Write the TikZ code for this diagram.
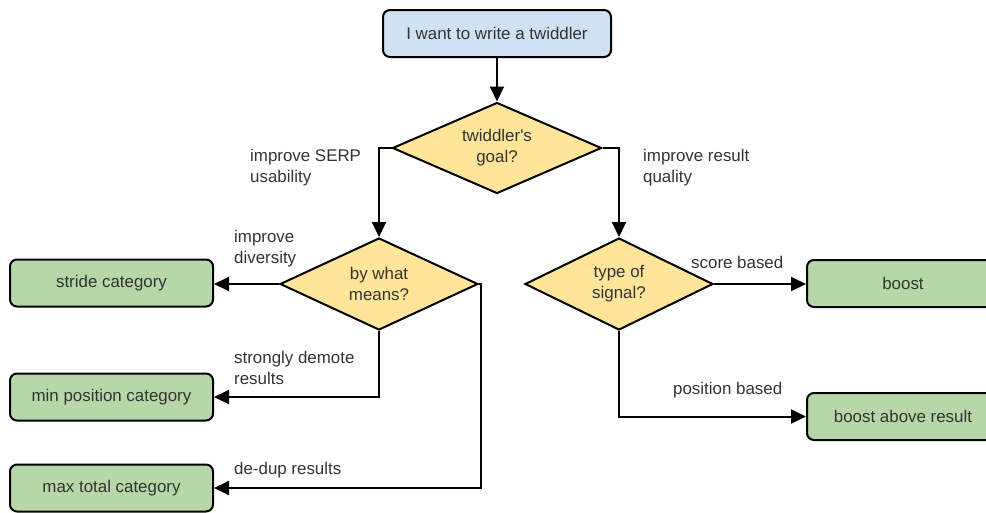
\documentclass[tikz,border=0pt]{standalone}
\usepackage{fontspec}
\setmainfont{Liberation Sans}
\usepackage{xcolor}
\usetikzlibrary{shapes.geometric,arrows.meta}
\definecolor{startblue}{HTML}{CFE2F3}
\definecolor{leafgreen}{HTML}{B6D7A8}
\definecolor{askyellow}{HTML}{FFE599}
\definecolor{inkgray}{HTML}{333333}

\begin{document}
\begin{tikzpicture}[x=1pt,y=-1pt,
		font=\fontsize{16.9}{21}\selectfont,
		box/.style={draw, line width=2pt, rounded corners=7pt, minimum height=47pt, inner sep=0pt, text=inkgray},
		leaf/.style={box, fill=leafgreen},
		ask/.style={draw, diamond, aspect=2.2, line width=2pt, fill=askyellow, inner sep=0pt, align=center, text=inkgray},
		edgetxt/.style={anchor=west, inner sep=0pt, align=left, text=inkgray},
		flow/.style={line width=2pt, -{Triangle[length=15pt,width=14pt]}}]
			\useasboundingbox (0,0) rectangle (986,512);
			% boxes and questions
			\node[box, fill=startblue, minimum width=228pt] (start) at (497,33.5) {I want to write a twiddler};
			\node[ask, minimum width=209pt, minimum height=91pt] (goal) at (497,148) {twiddler\textquotesingle s\\goal?};
			\node[ask, minimum width=198pt, minimum height=92pt] (means) at (379,284) {by what\\means?};
			\node[ask, minimum width=188pt, minimum height=92pt] (signal) at (619,284) {type of\\signal?};
			\node[leaf, minimum width=203pt] (stride) at (111.5,283) {stride category};
			\node[leaf, minimum width=203pt] (minpos) at (111.5,397) {min position category};
			\node[leaf, minimum width=203pt] (maxtot) at (111.5,488) {max total category};
			\node[leaf, minimum width=192pt] (boost) at (903,283.5) {boost};
			\node[leaf, minimum width=192pt] (above) at (903,416.5) {boost above result};
			% connectors
			\draw[flow] (start) -- (goal);
			\draw[flow] (goal.west) -| (means.north);
			\draw[flow] (goal.east) -| (signal.north);
			\draw[flow] (means.west) -- (stride.east |- means.west);
			\draw[flow] (means.south) |- (minpos.east);
			\draw[flow] (means.east) -- ++(2,0) |- (maxtot.east);
			\draw[flow] (signal.east) -- (boost.west |- signal.east);
			\draw[flow] (signal.south) |- (above.west);
			% labels
			\node[edgetxt] (serp) at (250,167.5) {improve SERP\\usability};
			\node[edgetxt] (quality) at (643,167.5) {improve result\\quality};
			\node[edgetxt] (diversity) at (234,248.5) {improve\\diversity};
			\node[edgetxt] (demote) at (234,367.5) {strongly demote\\results};
			\node[edgetxt] (dedup) at (234,470) {de-dup results};
			\node[edgetxt] (score) at (691,262) {score based};
			\node[edgetxt] (position) at (673,390) {position based};
		\end{tikzpicture}
\end{document}
